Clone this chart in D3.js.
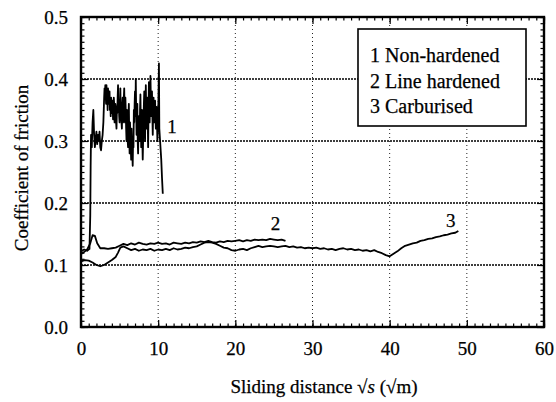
<!DOCTYPE html>
<html>
<head>
<meta charset="utf-8">
<script src="https://cdn.jsdelivr.net/npm/d3@7"></script>
<style>
  body { margin: 0; background: #fff; }
  svg text { fill: #000; stroke: #000; stroke-width: 0.25; }
  .tick text { font-size: 19px; }
  .tick line { stroke: #000; stroke-width: 1.2; }
</style>
</head>
<body>
<svg id="chart" width="556" height="402"></svg>
<script>
// sliding distance (sqrt m), coefficient of friction
const nonHardened = [
  [0, 0.122], [0.4, 0.125], [0.8, 0.123], [1.1, 0.126], [1.2, 0.18], [1.25, 0.26], [1.3, 0.31],
  [1.4, 0.29], [1.5, 0.33], [1.6, 0.35], [1.7, 0.31], [1.8, 0.29], [1.9, 0.305], [2.0, 0.315],
  [2.1, 0.295], [2.2, 0.31], [2.3, 0.30], [2.4, 0.315], [2.5, 0.29], [2.6, 0.285], [2.7, 0.30],
  [2.8, 0.31], [2.9, 0.33], [3.0, 0.37], [3.05, 0.385], [3.1, 0.37], [3.15, 0.39], [3.2, 0.375],
  [3.25, 0.36], [3.3, 0.39], [3.35, 0.365], [3.4, 0.38], [3.45, 0.35], [3.5, 0.385], [3.55, 0.37],
  [3.6, 0.36], [3.65, 0.375], [3.7, 0.38], [3.75, 0.35], [3.8, 0.365], [3.85, 0.34], [3.9, 0.37],
  [3.95, 0.355], [4.0, 0.345], [4.05, 0.36], [4.1, 0.365], [4.15, 0.335], [4.2, 0.35], [4.25, 0.37],
  [4.3, 0.36], [4.35, 0.33], [4.4, 0.34], [4.45, 0.36], [4.5, 0.355], [4.55, 0.33], [4.6, 0.32],
  [4.65, 0.35], [4.7, 0.345], [4.75, 0.37], [4.8, 0.39], [4.85, 0.35], [4.9, 0.36], [4.95, 0.34],
  [5.0, 0.33], [5.05, 0.36], [5.1, 0.385], [5.15, 0.34], [5.2, 0.35], [5.25, 0.33], [5.3, 0.32],
  [5.35, 0.36], [5.4, 0.37], [5.45, 0.33], [5.5, 0.34], [5.55, 0.37], [5.6, 0.385], [5.65, 0.35],
  [5.7, 0.33], [5.75, 0.37], [5.8, 0.35], [5.85, 0.32], [5.9, 0.30], [5.95, 0.35], [6.0, 0.33],
  [6.05, 0.30], [6.1, 0.29], [6.15, 0.34], [6.2, 0.36], [6.25, 0.31], [6.3, 0.28], [6.35, 0.33],
  [6.4, 0.31], [6.45, 0.29], [6.5, 0.27], [6.55, 0.32], [6.6, 0.30], [6.65, 0.28], [6.7, 0.26],
  [6.75, 0.30], [6.8, 0.29], [6.85, 0.35], [6.9, 0.33], [6.95, 0.36], [7.0, 0.38], [7.05, 0.34],
  [7.1, 0.40], [7.15, 0.35], [7.2, 0.31], [7.25, 0.33], [7.3, 0.36], [7.35, 0.30], [7.4, 0.28],
  [7.45, 0.32], [7.5, 0.34], [7.55, 0.31], [7.6, 0.30], [7.65, 0.35], [7.7, 0.375], [7.75, 0.33],
  [7.8, 0.29], [7.85, 0.32], [7.9, 0.35], [7.95, 0.30], [8.0, 0.27], [8.05, 0.30], [8.1, 0.33],
  [8.15, 0.36], [8.2, 0.38], [8.25, 0.34], [8.3, 0.30], [8.35, 0.35], [8.4, 0.39], [8.45, 0.35],
  [8.5, 0.32], [8.55, 0.34], [8.6, 0.37], [8.65, 0.33], [8.7, 0.29], [8.75, 0.35], [8.8, 0.395],
  [8.85, 0.36], [8.9, 0.33], [8.95, 0.37], [9.0, 0.405], [9.05, 0.37], [9.1, 0.34], [9.15, 0.36],
  [9.2, 0.38], [9.25, 0.34], [9.3, 0.31], [9.35, 0.35], [9.4, 0.37], [9.45, 0.34], [9.5, 0.33],
  [9.55, 0.35], [9.6, 0.365], [9.65, 0.34], [9.7, 0.32], [9.75, 0.34], [9.8, 0.355], [9.85, 0.33],
  [9.9, 0.30], [9.95, 0.32], [10.0, 0.34], [10.05, 0.38], [10.1, 0.425], [10.15, 0.32],
  [10.25, 0.30], [10.4, 0.27], [10.5, 0.24], [10.6, 0.215]
];

const lineHardened = [
  [0, 0.118], [0.3, 0.12], [0.8, 0.125], [1.2, 0.135], [1.5, 0.148], [1.8, 0.147], [2.1, 0.135],
  [2.5, 0.127], [3, 0.127], [3.5, 0.126], [4, 0.127], [4.5, 0.128], [5, 0.131], [5.5, 0.134],
  [6, 0.132], [6.5, 0.135], [7, 0.133], [7.5, 0.136], [8, 0.134], [8.5, 0.133], [9, 0.135],
  [9.5, 0.134], [10, 0.136], [10.5, 0.134], [11, 0.135], [11.5, 0.133], [12, 0.136], [12.5, 0.135],
  [13, 0.134], [13.5, 0.136], [14, 0.135], [14.5, 0.137], [15, 0.136], [15.5, 0.138], [16, 0.137],
  [16.5, 0.139], [17, 0.137], [17.5, 0.136], [18, 0.138], [18.5, 0.137], [19, 0.139], [19.5, 0.138],
  [20, 0.139], [20.5, 0.14], [21, 0.138], [21.5, 0.14], [22, 0.139], [22.5, 0.141], [23, 0.14],
  [23.5, 0.141], [24, 0.14], [24.5, 0.142], [25, 0.141], [25.5, 0.14], [26, 0.141], [26.5, 0.139]
];

const carburised = [
  [0, 0.106], [0.5, 0.108], [1, 0.107], [1.5, 0.104], [2, 0.1], [2.5, 0.098], [3, 0.1],
  [3.5, 0.104], [4, 0.108], [4.5, 0.113], [4.8, 0.12], [5.1, 0.128], [5.5, 0.13], [6, 0.127],
  [6.5, 0.124], [7, 0.126], [7.5, 0.123], [8, 0.125], [8.5, 0.124], [9, 0.126], [9.5, 0.123],
  [10, 0.125], [10.5, 0.124], [11, 0.126], [11.5, 0.124], [12, 0.127], [12.5, 0.125], [13, 0.126],
  [13.5, 0.128], [14, 0.127], [14.5, 0.129], [15, 0.13], [15.5, 0.133], [16, 0.136], [16.5, 0.137],
  [17, 0.136], [17.5, 0.134], [18, 0.131], [18.5, 0.128], [19, 0.127], [19.5, 0.124], [20, 0.123],
  [20.5, 0.125], [21, 0.126], [21.5, 0.124], [22, 0.127], [22.5, 0.129], [23, 0.131], [23.5, 0.129],
  [24, 0.13], [24.5, 0.131], [25, 0.13], [25.5, 0.129], [26, 0.13], [26.5, 0.131], [27, 0.129],
  [27.5, 0.13], [28, 0.128], [28.5, 0.129], [29, 0.127], [29.5, 0.128], [30, 0.127], [30.5, 0.128],
  [31, 0.126], [31.5, 0.127], [32, 0.125], [32.5, 0.126], [33, 0.124], [33.5, 0.126], [34, 0.127],
  [34.5, 0.125], [35, 0.126], [35.5, 0.124], [36, 0.125], [36.5, 0.123], [37, 0.124], [37.5, 0.122],
  [38, 0.124], [38.5, 0.121], [39, 0.119], [39.5, 0.116], [40, 0.114], [40.5, 0.118], [41, 0.122],
  [41.5, 0.127], [42, 0.131], [42.5, 0.133], [43, 0.135], [43.5, 0.136], [44, 0.139], [44.5, 0.14],
  [45, 0.142], [45.5, 0.143], [46, 0.145], [46.5, 0.146], [47, 0.148], [47.5, 0.149], [48, 0.151],
  [48.5, 0.152], [48.9, 0.155]
];

const legendLabels = ["1 Non-hardened", "2 Line hardened", "3 Carburised"];
const curveLabels = [
  { text: "1", x: 11.8, y: 0.313 },
  { text: "2", x: 25.2, y: 0.156 },
  { text: "3", x: 47.9, y: 0.161 }
];
const xTicks = [0, 10, 20, 30, 40, 50, 60];
const yTicks = [0, 0.1, 0.2, 0.3, 0.4, 0.5];

const svg = d3.select("#chart");
const padL = 81, padR = 544, padT = 17, padB = 327;

const x = d3.scaleLinear().domain([0, 60]).range([padL, padR]);
const y = d3.scaleLinear().domain([0, 0.5]).range([padB, padT]);

// grid
svg.append("g").selectAll("line")
    .data(yTicks.slice(1, -1))
    .enter().append("line")
    .attr("x1", padL).attr("x2", padR)
    .attr("y1", d => y(d)).attr("y2", d => y(d))
    .attr("stroke", "#000").attr("stroke-width", 1.5)
    .attr("stroke-dasharray", "2,1");

svg.append("g").selectAll("line")
    .data(xTicks.slice(1, -1))
    .enter().append("line")
    .attr("x1", d => x(d)).attr("x2", d => x(d))
    .attr("y1", padT).attr("y2", padB)
    .attr("stroke", "#222").attr("stroke-width", 1)
    .attr("stroke-dasharray", "1,3");

// axes, ticks pointing inward
function minor(axis, vals) {
  return axis.tickValues(vals).tickSize(-3.5).tickFormat("");
}
const xMinor = d3.range(0, 61, 1), yMinor = d3.range(0, 0.501, 0.01);

svg.append("g").attr("transform", `translate(0,${padB})`)
    .call(minor(d3.axisBottom(x), xMinor));
svg.append("g").attr("transform", `translate(0,${padB})`)
    .call(d3.axisBottom(x).tickValues(xTicks).tickSize(-7).tickPadding(15).tickFormat(d3.format("d")));
svg.append("g").attr("transform", `translate(0,${padT})`)
    .call(minor(d3.axisTop(x), xMinor));
svg.append("g").attr("transform", `translate(0,${padT})`)
    .call(d3.axisTop(x).tickValues(xTicks).tickSize(-7).tickFormat(""));

svg.append("g").attr("transform", `translate(${padL},0)`)
    .call(minor(d3.axisLeft(y), yMinor));
svg.append("g").attr("transform", `translate(${padL},0)`)
    .call(d3.axisLeft(y).tickValues(yTicks).tickSize(-7).tickPadding(13).tickFormat(d3.format(".1f")));
svg.append("g").attr("transform", `translate(${padR},0)`)
    .call(minor(d3.axisRight(y), yMinor));
svg.append("g").attr("transform", `translate(${padR},0)`)
    .call(d3.axisRight(y).tickValues(yTicks).tickSize(-7).tickFormat(""));

svg.selectAll(".domain").remove();
svg.selectAll("g").attr("font-family", null).attr("font-size", null);

// curves
const line = d3.line().x(d => x(d[0])).y(d => y(d[1]));
[carburised, lineHardened, nonHardened].forEach(s => {
  svg.append("path")
      .datum(s)
      .attr("d", line)
      .attr("fill", "none")
      .attr("stroke", "#000")
      .attr("stroke-width", 1.8)
      .attr("stroke-linejoin", "round");
});

// frame
svg.append("rect")
    .attr("x", padL).attr("y", padT)
    .attr("width", padR - padL).attr("height", padB - padT)
    .attr("fill", "none").attr("stroke", "#000").attr("stroke-width", 2.4);

// curve numbers
svg.append("g").selectAll("text")
    .data(curveLabels)
    .enter().append("text")
    .attr("x", d => x(d.x)).attr("y", d => y(d.y))
    .attr("text-anchor", "middle")
    .attr("font-size", 19)
    .text(d => d.text);

// legend
const legend = svg.append("g");
legend.append("rect")
    .attr("x", 358).attr("y", 29).attr("width", 168).attr("height", 97)
    .attr("fill", "#fff").attr("stroke", "#000").attr("stroke-width", 1.6);
legend.selectAll("text")
    .data(legendLabels)
    .enter().append("text")
    .attr("x", 370)
    .attr("y", (d, i) => 62 + i * 25.5)
    .attr("font-size", 20)
    .text(d => d);

// axis titles
const xt = svg.append("text")
    .attr("x", 324).attr("y", 393)
    .attr("text-anchor", "middle")
    .attr("font-size", 19);
xt.append("tspan").text("Sliding distance √");
xt.append("tspan").attr("font-style", "italic").text("s");
xt.append("tspan").text(" (√m)");

svg.append("text")
    .attr("transform", "translate(28,168) rotate(-90)")
    .attr("text-anchor", "middle")
    .attr("font-size", 19)
    .text("Coefficient of friction");

svg.selectAll("text").style("font-family", '"Liberation Serif"');
</script>
</body>
</html>
